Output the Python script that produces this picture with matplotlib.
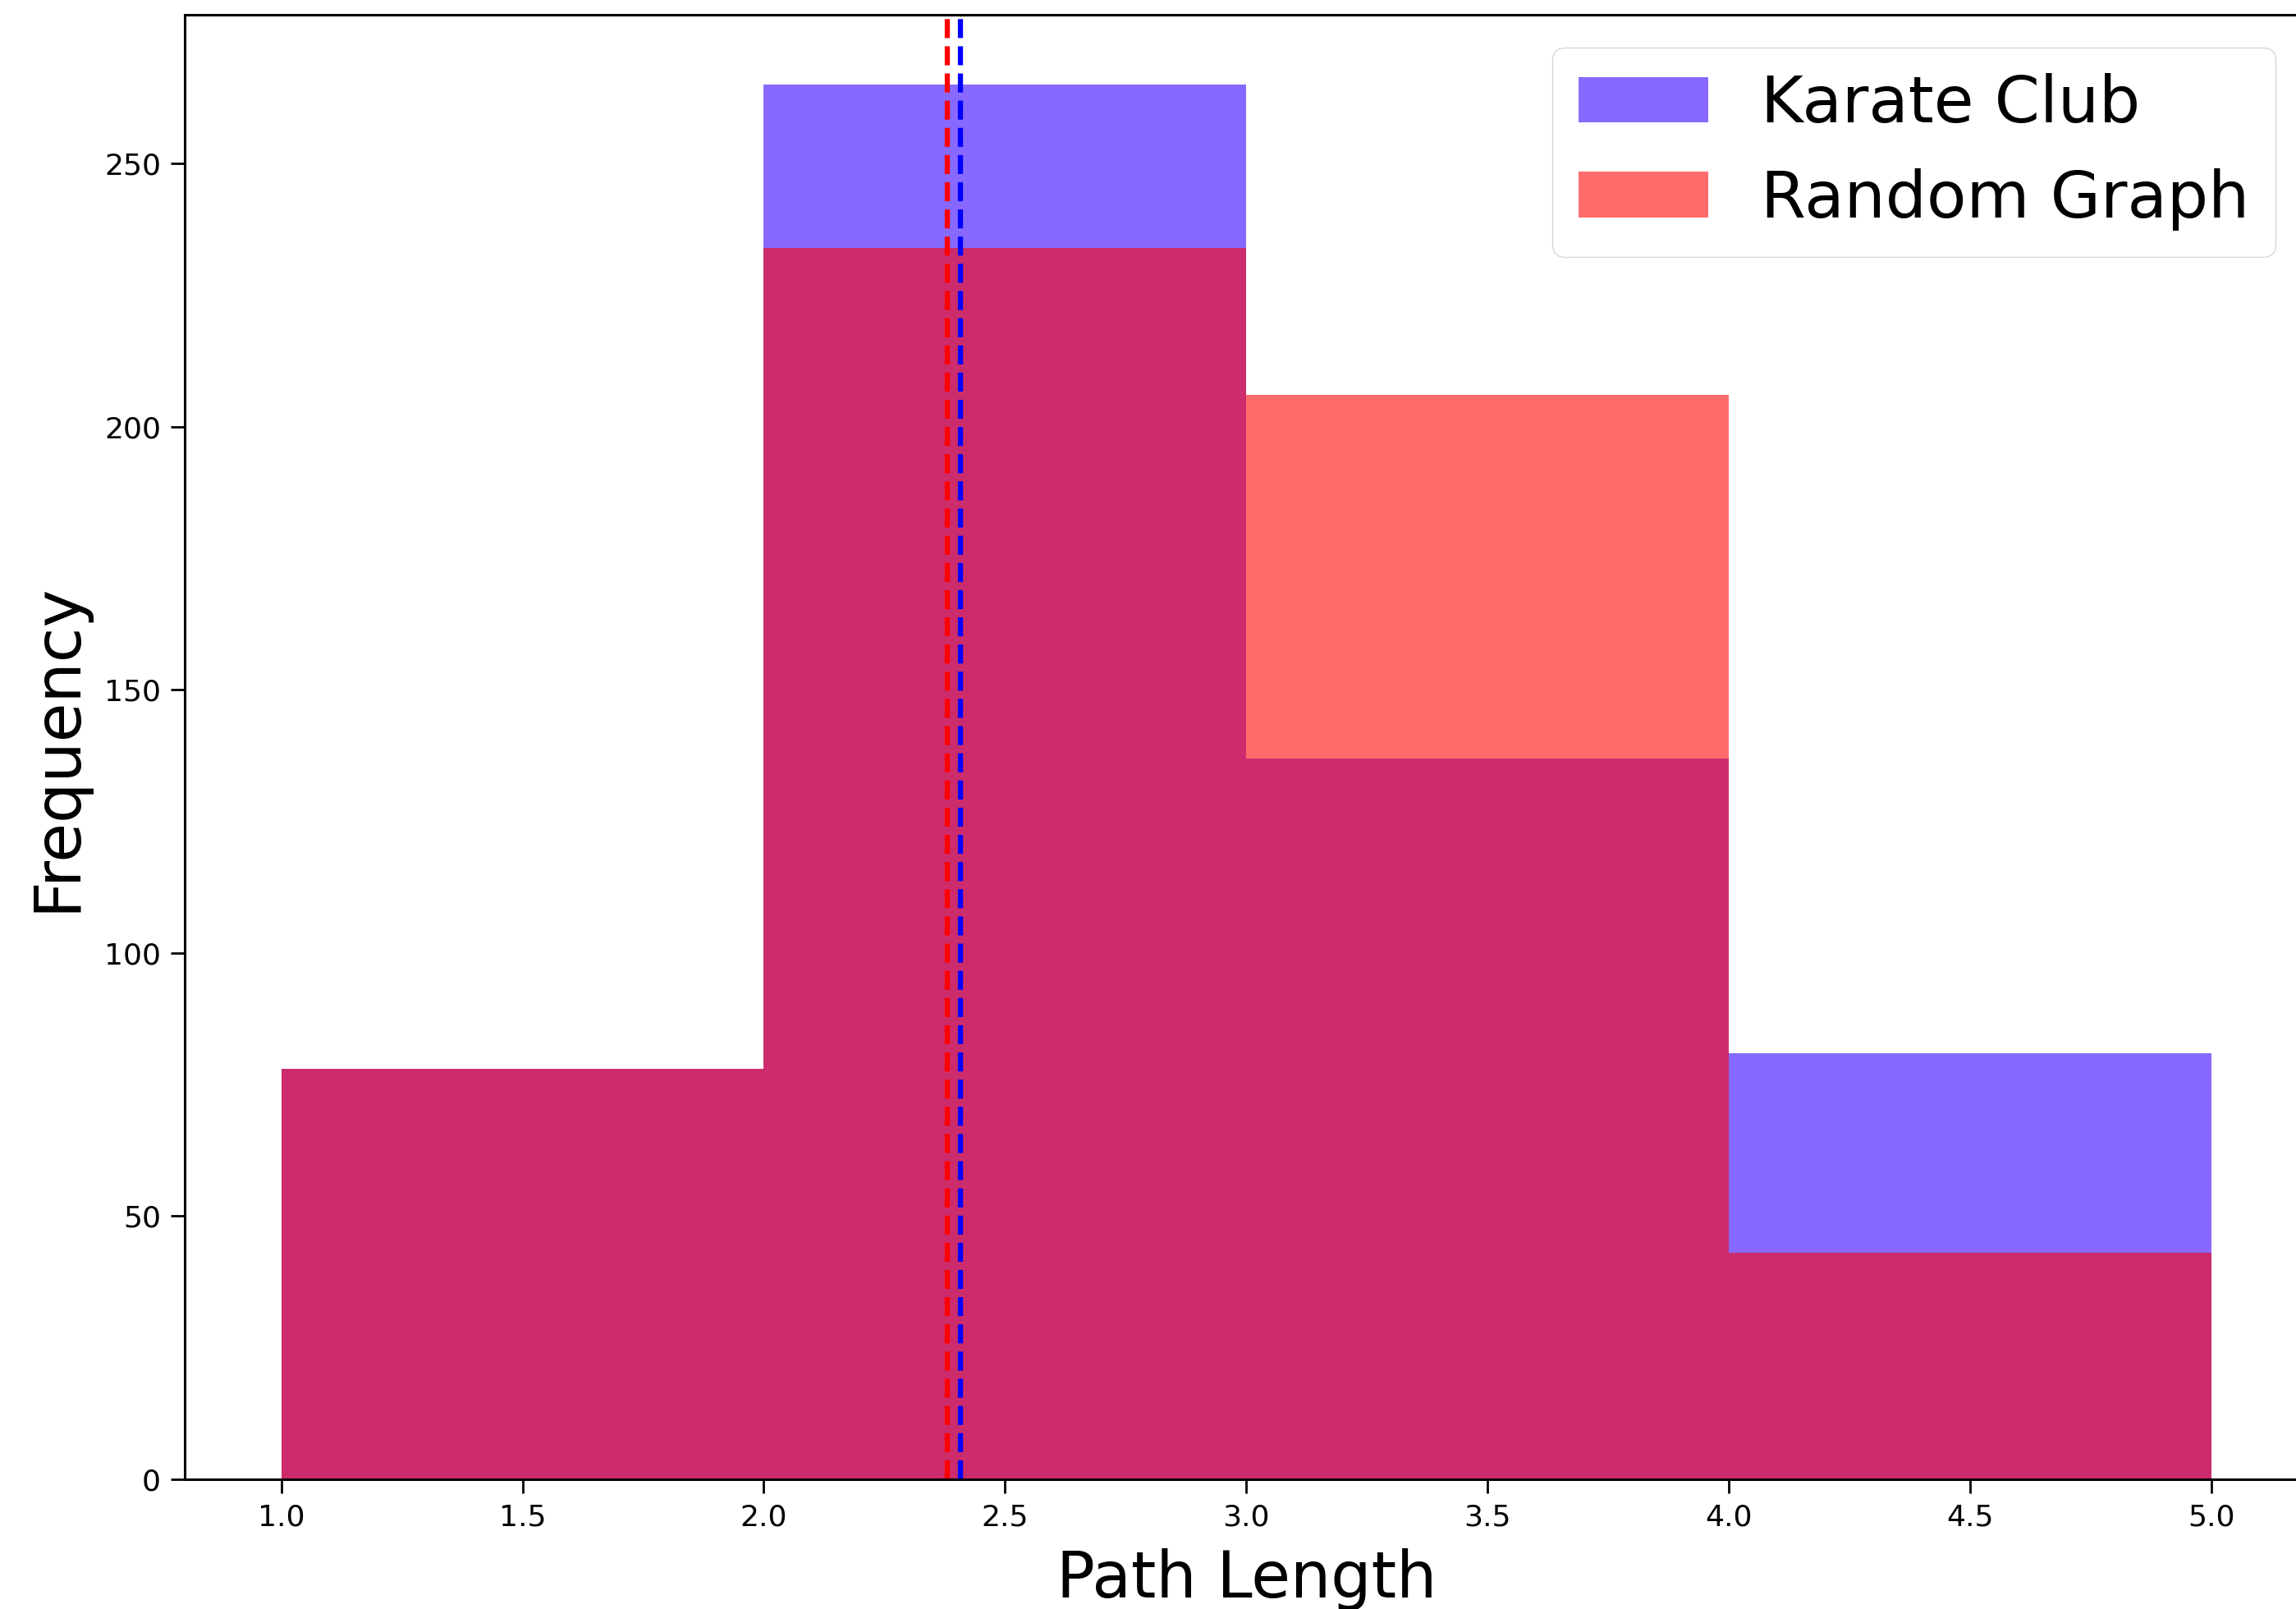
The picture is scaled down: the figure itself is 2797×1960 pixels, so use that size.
import matplotlib
matplotlib.use("Agg")
import matplotlib.pyplot as plt

# Data
bin_edges = [1, 2, 3, 4, 5]
karate_counts = [78, 265, 137, 81]
random_counts = [78, 234, 206, 43]
karate_mean = 2.408
random_mean = 2.381
series_labels = ["Karate Club", "Random Graph"]

fig = plt.figure(figsize=(27.97, 19.60), dpi=100)
ax = fig.add_axes([0.0805, 0.0806, 0.9246, 0.9102])

ax.hist(bin_edges[:-1], bins=bin_edges, weights=karate_counts,
        color="#3400ff", alpha=0.59, label=series_labels[0])
ax.hist(bin_edges[:-1], bins=bin_edges, weights=random_counts,
        color="#ff0000", alpha=0.58, label=series_labels[1])

ax.axvline(random_mean, color="red", linestyle="--", linewidth=4.5)
ax.axvline(karate_mean, color="blue", linestyle="--", linewidth=4.5)

ax.set_xlabel("Path Length", fontsize=56, labelpad=15)
ax.set_ylabel("Frequency", fontsize=56, labelpad=14)
ax.tick_params(axis="both", labelsize=26, length=12, width=2, pad=9)
for s in ax.spines.values():
    s.set_linewidth(2.2)

ax.legend(fontsize=57, loc="upper right")

fig.savefig("out.png", dpi=100)
